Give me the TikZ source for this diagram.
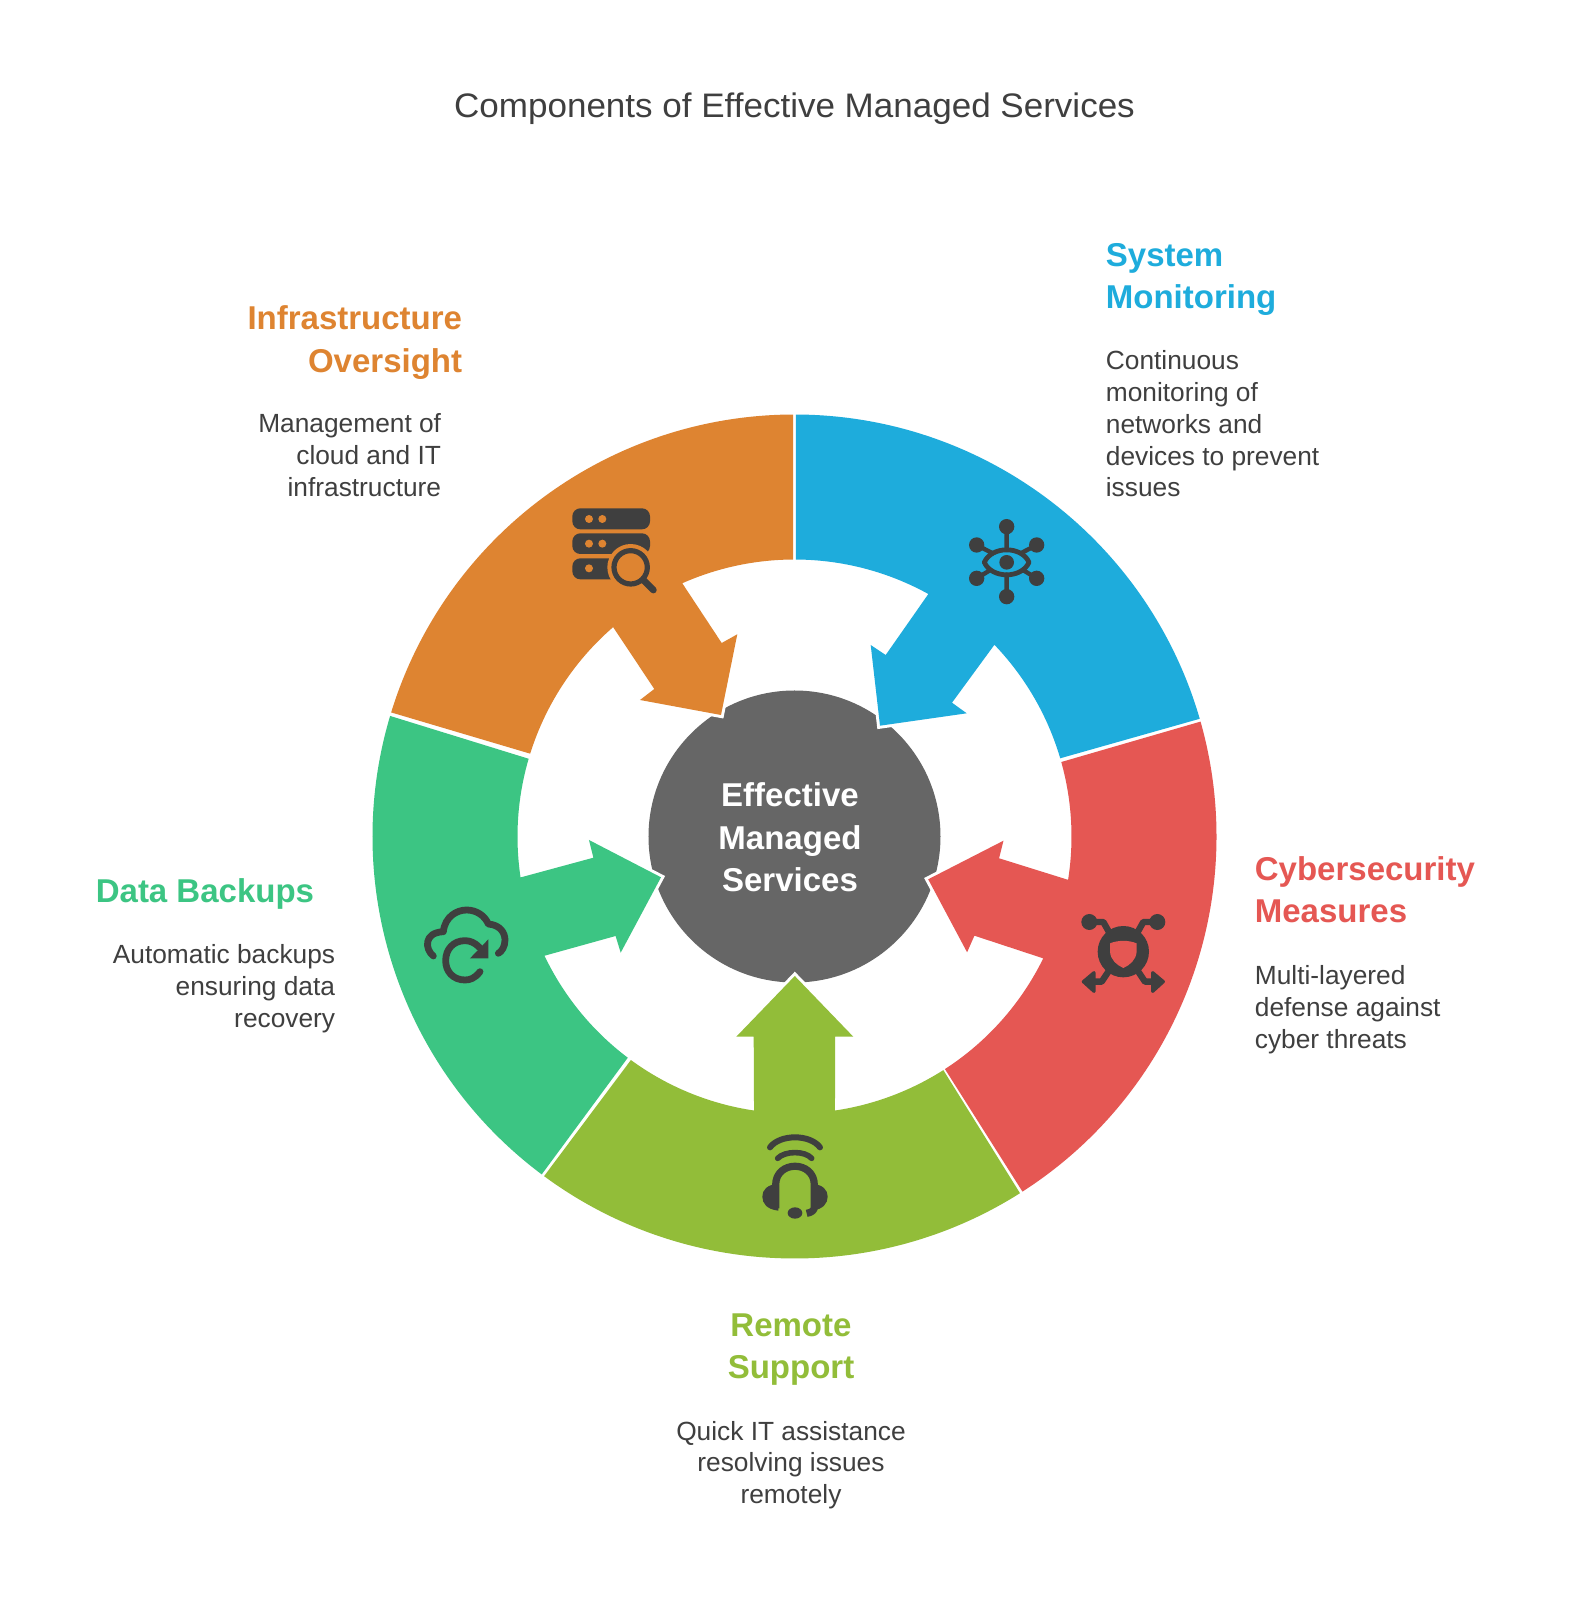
\documentclass[tikz,border=0pt]{standalone}
\usepackage{fontspec}
\setmainfont{Liberation Sans}[Ligatures=NoCommon]
\definecolor{cOrange}{HTML}{DE8431}
\definecolor{cBlue}{HTML}{1EACDC}
\definecolor{cRed}{HTML}{E55753}
\definecolor{cLime}{HTML}{92BD39}
\definecolor{cTeal}{HTML}{3CC583}
\definecolor{cCore}{HTML}{666666}
\definecolor{cInk}{HTML}{3F3F3F}
\newcommand{\ls}{\rule[-.3\baselineskip]{0pt}{\baselineskip}}
\tikzset{
  x=.5pt,y=.5pt,
  halo/.style={draw=white,line width=3pt,fill=white},
  head/.style={inner sep=0pt,font=\fontsize{16.5}{21.35}\selectfont\bfseries},
  body/.style={inner sep=0pt,text=cInk,font=\fontsize{13.15}{15.85}\selectfont},
  ink/.style={draw=cInk,fill=none,line cap=round,line join=round},
  icon/.style={shift={#1},x=.16667pt,y=-.16667pt}
}
\def\pOrange{(90.2:422) arc[start angle=90.2,end angle=162.9,radius=422] -- (162.6:277) arc[start angle=162.6,end angle=130.9,radius=277]
 -- (-140.2,147.5) -- (-154.5,136.5) -- (-73.5,121.5) -- (-57.2,202.2) -- (-72.8,193.5) -- (113.9:277) arc[start angle=113.9,end angle=90.3,radius=277] -- cycle}
\def\pBlue{(89.8:422) arc[start angle=89.8,end angle=16.2,radius=422] -- (16.4:277) arc[start angle=16.4,end angle=43.8,radius=277]
 -- (157.5,133.8) -- (172.2,123.2) -- (85.5,110.8) -- (76.2,191.5) -- (91.2,181.5) -- (61.1:277) arc[start angle=61.1,end angle=89.7,radius=277] -- cycle}
\def\pRed{(15.8:422) arc[start angle=15.8,end angle=-57.3,radius=422] -- (-57.1:277) arc[start angle=-57.1,end angle=-26.1,radius=277]
 -- (179.9,-99.2) -- (172.6,-115.8) -- (133.7,-42.8) -- (209,-4.2) -- (204.6,-21.8) -- (-9:277) arc[start angle=-9,end angle=15.6,radius=277] -- cycle}
\def\pLime{(233.6:422) arc[start angle=233.6,end angle=302.3,radius=422] -- (302.5:277) arc[start angle=302.5,end angle=278.4,radius=277]
 -- (40.7,-200.2) -- (58.8,-200.2) -- (0.3,-139.5) -- (-58.2,-200.2) -- (-40.8,-200.2) -- (261.6:277) arc[start angle=261.6,end angle=233.8,radius=277] -- cycle}
\def\pTeal{(163.4:422) arc[start angle=163.4,end angle=233.2,radius=422] -- (233:277) arc[start angle=233,end angle=205.5,radius=277]
 -- (-178.9,-99.5) -- (-173.8,-116.2) -- (-133.5,-40.8) -- (-205.5,-3.5) -- (-201.1,-21.2) -- (188.5:277) arc[start angle=188.5,end angle=163.7,radius=277] -- cycle}
\begin{document}
\begin{tikzpicture}
\useasboundingbox (-794.5,-763.5) rectangle (794.5,836.5);
\fill[white] (-794.5,-763.5) rectangle (794.5,836.5);
% core
\fill[cCore] (0,0) circle[radius=146];
% halos then segments
\path[halo] \pOrange; \path[halo] \pBlue; \path[halo] \pRed; \path[halo] \pLime; \path[halo] \pTeal;
\fill[cOrange] \pOrange;
\fill[cBlue] \pBlue;
\fill[cRed] \pRed;
\fill[cLime] \pLime;
\fill[cTeal] \pTeal;
% title and centre
\node[inner sep=0pt,text=cInk,font=\fontsize{17}{20}\selectfont\addfontfeature{FakeStretch=1.03}] (title) at (0,727.5) {Components of Effective Managed Services};
\node[head,text=white,align=center] (core) at (-4.5,-4) {\ls Effective\\Managed\\Services\ls};
% labels
\node[head,text=cBlue,align=left,anchor=west] (h1) at (311,557.5) {\ls System\\Monitoring\ls};
\node[body,align=left,anchor=west] (b1) at (311,409.5) {\ls Continuous\\monitoring of\\networks and\\devices to prevent\\issues\ls};
\node[head,text=cOrange,align=right,anchor=east] (h2) at (-332,494) {\ls Infrastructure\\Oversight\ls};
\node[body,align=right,anchor=east] (b2) at (-353,378.5) {\ls Management of\\cloud and IT\\infrastructure\ls};
\node[head,text=cRed,align=left,anchor=west] (h3) at (460,-56.5) {\ls Cybersecurity\\Measures\ls};
\node[body,align=left,anchor=west] (b3) at (460,-173.5) {\ls Multi-layered\\defense against\\cyber threats\ls};
\node[head,text=cTeal,anchor=east] (h4) at (-480,-57) {\ls Data Backups};
\node[body,align=right,anchor=east] (b4) at (-459,-152.5) {\ls Automatic backups\\ensuring data\\recovery\ls};
\node[head,text=cLime,align=center] (h5) at (-3.5,-512.5) {\ls Remote\\Support\ls};
\node[body,align=center] (b5) at (-3.5,-629) {\ls Quick IT assistance\\resolving issues\\remotely\ls};
% icon: server + magnifier
\begin{scope}[icon={(-254.5,356.5)}]
  \fill[cInk,rounded corners=4pt] (97,85) rectangle (330,148);
  \fill[cInk,rounded corners=4pt] (97,160) rectangle (330,222);
  \fill[cInk,rounded corners=4pt] (97,235) rectangle (260,298);
  \fill[cOrange] (147,117) circle[radius=12] (187,117) circle[radius=12] (147,191) circle[radius=12] (187,191) circle[radius=12] (147,265) circle[radius=12];
  \fill[cOrange] (272,262) circle[radius=70];
  \draw[ink,line width=2.6pt] (272,262) circle[radius=50];
  \draw[ink,line width=3.4pt] (312,302) -- (340,330);
\end{scope}
% icon: eye network
\begin{scope}[icon={(155.5,336.5)}]
  \draw[ink,line width=2.4pt] (103,187) .. controls (125,137) and (215,137) .. (237,187) .. controls (215,237) and (125,237) .. (103,187) -- cycle;
  \draw[ink,line width=2.2pt] (170,80) -- (170,150) (170,224) -- (170,290) (80,135) -- (128,160) (260,135) -- (212,160) (80,235) -- (118,212) (260,235) -- (222,212);
  \fill[cInk] (170,187) circle[radius=22] (170,80) circle[radius=23] (80,135) circle[radius=23] (260,135) circle[radius=23] (80,235) circle[radius=23] (260,235) circle[radius=23] (170,290) circle[radius=23];
\end{scope}
% icon: shield network
\begin{scope}[icon={(265.5,-63.5)}]
  \draw[ink,line width=3.2pt] (88,66) -- (130,66) -- (152,105) (292,66) -- (250,66) -- (228,105) (145,215) -- (125,245) -- (90,245) (235,215) -- (255,245) -- (290,245);
  \fill[cInk] (88,66) circle[radius=24] (292,66) circle[radius=24];
  \filldraw[cInk,line width=1.6pt,line join=round] (102,218) -- (70,245) -- (102,274) -- cycle (278,218) -- (310,245) -- (278,274) -- cycle;
  \fill[cInk] (190,155) circle[radius=77];
  \fill[cRed] (150,130) .. controls (175,120) and (205,120) .. (230,130) -- (230,155) .. controls (228,180) and (210,195) .. (190,204) .. controls (170,195) and (152,180) .. (150,155) -- cycle;
\end{scope}
% icon: headset
\begin{scope}[icon={(-59.5,-283.5)}]
  \draw[ink,line width=3pt] (105,82) .. controls (135,42) and (225,42) .. (255,82);
  \draw[ink,line width=2.8pt] (128,115) .. controls (150,92) and (210,92) .. (230,115);
  \draw[ink,line width=3.6pt,line cap=butt] (122,265) -- (122,195) .. controls (122,120) and (238,120) .. (238,195) -- (238,262) .. controls (238,270) and (230,278) .. (215,280);
  \fill[cInk] (130,190) .. controls (95,195) and (82,210) .. (82,230) .. controls (82,250) and (95,268) .. (130,272) -- cycle;
  \fill[cInk] (230,190) .. controls (265,195) and (278,210) .. (278,230) .. controls (278,250) and (265,268) .. (230,272) -- cycle;
  \fill[cInk] (180,279) ellipse[x radius=22,y radius=17];
\end{scope}
% icon: cloud refresh
\begin{scope}[icon={(-384.5,-53.5)}]
  \draw[ink,line width=3.4pt] (70,198) .. controls (45,178) and (40,128) .. (100,125) .. controls (105,80) and (140,60) .. (170,60) .. controls (200,60) and (225,78) .. (235,102) .. controls (272,105) and (285,130) .. (285,150) .. controls (285,170) and (275,185) .. (265,190);
  \draw[ink,line width=3.4pt] (210,245) .. controls (195,265) and (180,270) .. (165,270) .. controls (130,270) and (107,245) .. (107,212) .. controls (107,178) and (130,152) .. (165,152) .. controls (180,152) and (195,158) .. (208,172);
  \fill[cInk] (235,148) -- (235,205) -- (180,205) -- cycle;
\end{scope}
\end{tikzpicture}
\end{document}
